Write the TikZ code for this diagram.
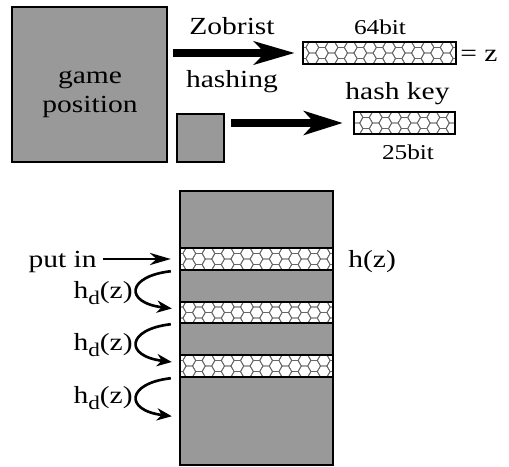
\documentclass[tikz,border=0pt]{standalone}
\usepackage{fontspec}
\setmainfont[FakeStretch=1.2]{Liberation Serif}
\usetikzlibrary{arrows.meta, positioning, calc}
\definecolor{dither}{gray}{0.6}
\definecolor{hexgray}{gray}{0.4}

\tikzset{
  posbox/.style={draw, line width=1.6pt, fill=dither, inner sep=0pt},
  hexbar/.style={draw, line width=1.4pt, fill=white, inner sep=0pt,
    path picture={
      \foreach \i [evaluate=\i as \yo using {mod(\i,2)*5.54}] in {0,...,20}
        \foreach \j in {-1,0,1}
          \draw[hexgray, line width=0.45pt]
            ($(path picture bounding box.center)+({(\i-10)*9.6},{\j*11.08+\yo})$)
            +(0:6.4) -- +(60:6.4) -- +(120:6.4) -- +(180:6.4) -- +(240:6.4) -- +(300:6.4) -- cycle;
    }},
  lbl/.style={font=\fontsize{14}{16.4}\selectfont, inner sep=0pt},
  bitlbl/.style={font=\fontsize{12}{13}\selectfont, inner sep=0pt},
  fatarrow/.style={line width=4.5pt, -{Stealth[length=23pt, width=13pt, inset=6pt]}},
  fatarrowb/.style={line width=4pt, -{Stealth[length=22pt, width=13.5pt, inset=6pt]}},
  thinarrow/.style={line width=1.1pt, -{Stealth[length=12pt, width=7pt]}},
  probe/.style={line width=1.5pt, -{Stealth[length=8.5pt, width=7pt]}},
}
\newcommand{\hdz}{h\raisebox{-3.8pt}{\fontsize{11}{11}\selectfont d}(z)}

\begin{document}
\begin{tikzpicture}[x=0.02cm, y=0.02cm]
  \useasboundingbox (0,0) rectangle (509,-466);

  % top: position -> 64bit key, part -> 25bit hash key
  \node[posbox, minimum width=3.1cm, minimum height=3.1cm] (game) at (89.5,-84.5) {};
  \node[lbl, align=center] (gametxt) at (90,-94) {game\\position};
  \node[posbox, minimum width=0.94cm, minimum height=0.96cm] (part) at (200.5,-138) {};

  \node[hexbar, minimum width=3.06cm, minimum height=0.44cm] (key64) at (379.5,-53) {};
  \node[hexbar, minimum width=2.02cm, minimum height=0.44cm] (key25) at (404.5,-123) {};

  \draw[fatarrow] ($(game.east |- key64.west)+(5,0)$) -- ($(key64.west)+(-7,0)$);
  \draw[fatarrowb] ($(part.east |- key25.west)+(6,0)$) -- ($(key25.west)+(-10,0)$);

  \node[lbl, anchor=base] (zob) at (232,-35) {Zobrist};
  \node[lbl, anchor=base] (hsh) at (232,-87) {hashing};
  \node[bitlbl, anchor=base] (b64) at (380,-35) {64bit};
  \node[lbl, anchor=base west] (eqz) at (460,-62) {= z};
  \node[lbl, anchor=base] (hkey) at (397.5,-99) {hash key};
  \node[bitlbl, anchor=base] (b25) at (408,-159) {25bit};

  % bottom: table with three probed slots
  \node[posbox, minimum width=3.06cm, minimum height=5.48cm] (table) at (256.5,-328) {};
  \node[hexbar, minimum width=3.06cm, minimum height=0.44cm] (slot1) at (256.5,-259) {};
  \node[hexbar, minimum width=3.06cm, minimum height=0.42cm] (slot2) at (256.5,-312.5) {};
  \node[hexbar, minimum width=3.06cm, minimum height=0.44cm] (slot3) at (256.5,-366) {};

  \node[lbl, anchor=base east] (putin) at (97,-267) {put in};
  \node[lbl, anchor=base west] (hz) at (348,-267) {h(z)};
  \draw[thinarrow, shorten <=3.4pt] (putin.east |- slot1.west) -- ($(slot1.west)+(-8,0)$);

  \coordinate (p1) at ($(slot1.south west)+(-8,0)$);
  \coordinate (q1) at ($(slot2.west)+(-7,4)$);
  \coordinate (p2) at ($(slot2.south west)+(-8,0)$);
  \coordinate (q2) at ($(slot3.west)+(-7,4)$);
  \coordinate (p3) at ($(slot3.south west)+(-8,0)$);
  \coordinate (q3) at ($(slot3.south west)+(-7,-38)$);

  \foreach \k/\yy in {1/298, 2/350, 3/403}{
    \node[lbl, anchor=base east] (hd\k) at (133,-\yy) {\hdz};
    \draw[probe] (p\k) .. controls +(-44,-5) and +(-48,6) .. (q\k);
  }
\end{tikzpicture}
\end{document}
